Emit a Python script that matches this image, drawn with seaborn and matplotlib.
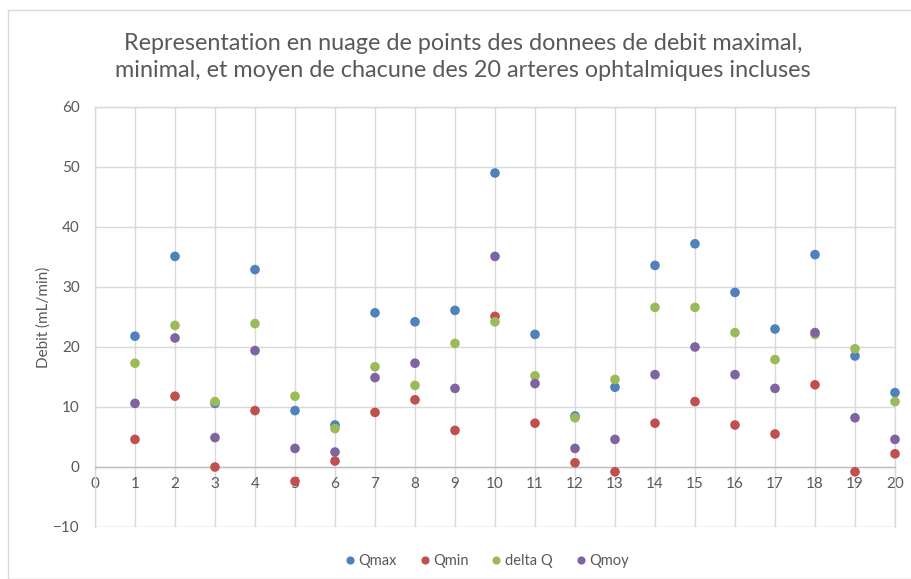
import matplotlib
matplotlib.use("Agg")
import matplotlib.pyplot as plt
import seaborn as sns
import pandas as pd
from matplotlib.patches import Rectangle

arteres = list(range(1, 21))
qmax = [21.8, 35.1, 10.6, 32.9, 9.4, 7.0, 25.7, 24.2, 26.1, 49.0,
        22.1, 8.5, 13.3, 33.6, 37.2, 29.1, 23.0, 35.4, 18.5, 12.4]
qmin = [4.6, 11.8, 0.0, 9.4, -2.4, 1.0, 9.1, 11.2, 6.1, 25.1,
        7.3, 0.7, -0.8, 7.3, 10.9, 7.0, 5.5, 13.7, -0.8, 2.2]
delta_q = [17.3, 23.6, 10.9, 23.9, 11.8, 6.4, 16.7, 13.6, 20.6, 24.2,
           15.2, 8.2, 14.6, 26.6, 26.6, 22.4, 17.9, 22.1, 19.7, 10.9]
qmoy = [10.6, 21.5, 4.9, 19.4, 3.1, 2.5, 14.9, 17.3, 13.1, 35.1,
        13.9, 3.1, 4.6, 15.4, 20.0, 15.4, 13.1, 22.4, 8.2, 4.6]
series_names = ["Qmax", "Qmin", "delta Q", "Qmoy"]
colors = ["#4F81BD", "#C0504D", "#9BBB59", "#8064A2"]

df = pd.concat([
    pd.DataFrame({"artere": arteres, "debit": vals, "serie": name})
    for name, vals in zip(series_names, [qmax, qmin, delta_q, qmoy])
], ignore_index=True)

sns.set_theme(style="white")
plt.rcParams["font.family"] = ["Lato", "DejaVu Sans"]

W, H = 911, 579
fig = plt.figure(figsize=(W / 100, H / 100), dpi=100)
ax = fig.add_axes([95 / W, (H - 527) / H, 800 / W, 420 / H])

fig.patches.append(Rectangle((8 / W, 0), 1.0, (H - 10) / H, transform=fig.transFigure,
                             fill=False, edgecolor="#D9D9D9", linewidth=1.0))

sns.scatterplot(data=df, x="artere", y="debit", hue="serie", hue_order=series_names,
                palette=colors, s=48, edgecolor="none", ax=ax, legend=True,
                zorder=3, clip_on=False)

ax.set_xlim(0, 20)
ax.set_ylim(-10, 60)
ax.set_xticks(range(0, 21))
ax.set_yticks(range(-10, 61, 10))
ax.grid(True, color="#D9D9D9", linewidth=1.0, zorder=0)
ax.set_axisbelow(True)
for side in ["top", "right", "left"]:
    ax.spines[side].set_color("#D9D9D9")
    ax.spines[side].set_linewidth(1.0)
ax.spines["bottom"].set_position(("data", 0))
ax.spines["bottom"].set_color("#BFBFBF")
ax.spines["bottom"].set_linewidth(1.0)
ax.axhline(-10, color="#D9D9D9", linewidth=1.0, zorder=0)
ax.tick_params(axis="both", length=0, labelsize=11, colors="#595959")
ax.tick_params(axis="x", pad=7)
ax.tick_params(axis="y", pad=11)
ax.set_xlabel("")
ax.set_ylabel("Debit (mL/min)", fontsize=11, color="#595959", labelpad=2)

fig.text(463 / W, 1 - 57 / H,
         "Representation en nuage de points des donnees de debit maximal,\n"
         "minimal, et moyen de chacune des 20 arteres ophtalmiques incluses",
         ha="center", va="center", fontsize=16.8, color="#595959", linespacing=1.3)

handles, labels = ax.get_legend_handles_labels()
ax.legend(handles, labels, loc="center", bbox_to_anchor=(482 / W, 1 - 561 / H),
          bbox_transform=fig.transFigure, ncol=4, frameon=False, fontsize=10.5,
          handletextpad=-0.4, columnspacing=0.9, markerscale=0.85, labelcolor="#595959")

fig.savefig("out.png", dpi=100)
